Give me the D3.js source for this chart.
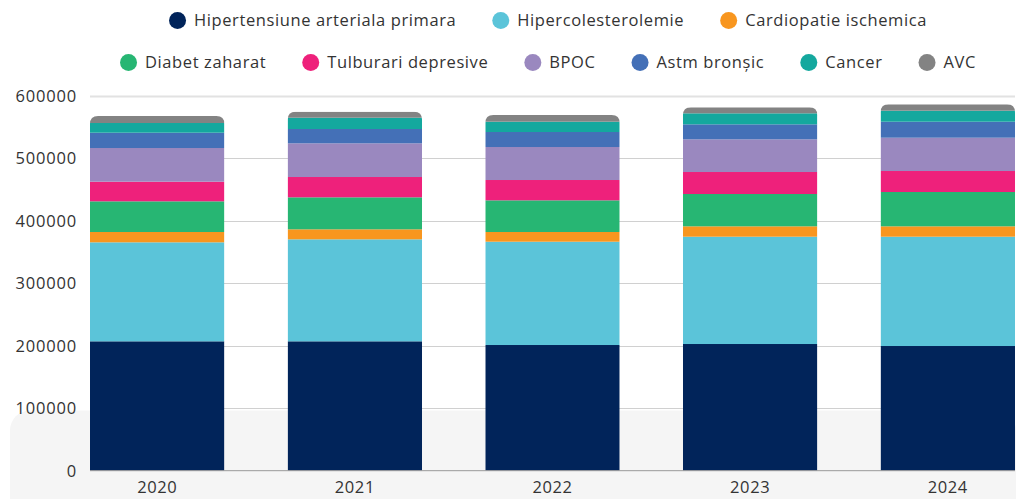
<!DOCTYPE html>
<html><head><meta charset="utf-8">
<script src="https://cdn.jsdelivr.net/npm/d3@7"></script>
<style>body{margin:0;background:#fff}svg{display:block}</style>
</head><body>
<svg id="c" width="1024" height="499"></svg>
<script>
const years = ["2020","2021","2022","2023","2024"];
const seriesNames = ["Hipertensiune arteriala primara","Hipercolesterolemie","Cardiopatie ischemica","Diabet zaharat","Tulburari depresive","BPOC","Astm bronșic","Cancer","AVC"];
const colors = ["#01245A","#5BC4D9","#F8961F","#27B673","#EE217B","#9A88BF","#4470B7","#14A89E","#838383"];
const hipertensiune = [207000,207000,201100,202700,199500];
const hipercolesterolemie = [158400,163200,165300,171700,174900];
const cardiopatie = [16500,16000,15500,16600,16600];
const diabet = [49100,51200,50700,51700,54900];
const depresive = [31400,32500,32500,35200,33600];
const bpoc = [53900,53900,52800,52300,53300];
const astm = [24500,22900,24000,24000,25600];
const cancer = [15500,18100,16500,17600,17600];
const avc = [11200,9600,10700,9600,10200];
const yTicks = [0,100000,200000,300000,400000,500000,600000];
const legendRows = [[0,1,2],[3,4,5,6,7,8]];

const seriesValues = [hipertensiune,hipercolesterolemie,cardiopatie,diabet,depresive,bpoc,astm,cancer,avc];
const keys = seriesNames;
const table = years.map((y,i)=>{const o={year:y};keys.forEach((k,j)=>o[k]=seriesValues[j][i]);return o;});
const stack = d3.stack().keys(keys)(table);

const svg = d3.select("#c");
const font = "'Open Sans', sans-serif";
const x = d3.scaleBand().domain(years).range([90,1015]).paddingInner(0.32).paddingOuter(0);
const y = d3.scaleLinear().domain([0,600000]).range([470.7,95.7]);

// background panel
svg.append("rect").attr("x",10).attr("y",410.5).attr("width",1006).attr("height",140).attr("rx",20).attr("fill","#f5f5f5");

// gridlines
svg.append("g").selectAll("line").data(yTicks.filter(t=>t>0)).join("line")
  .attr("x1",90).attr("x2",1015).attr("y1",d=>Math.round(y(d))+0.5).attr("y2",d=>Math.round(y(d))+0.5)
  .attr("stroke",d=>d===600000?"#e2e2e2":"#d0d0d0").attr("stroke-width",d=>d===600000?2:1);

// y axis labels
const yAxis = d3.axisLeft(y).tickValues(yTicks).tickSize(0).tickPadding(0).tickFormat(d=>String(d));
const ga = svg.append("g").attr("transform","translate(77,0)").call(yAxis);
ga.select(".domain").remove();
ga.selectAll("text").attr("font-family",font).attr("font-size",16.5).attr("letter-spacing","0.8px").attr("fill","#333").attr("dy","0.34em");

// clip paths for rounded tops
const defs = svg.append("defs");
const r = 8;
years.forEach((yr,i)=>{
  const top = y(stack[stack.length-1][i][1]);
  const x0 = x(yr), w = x.bandwidth(), b = y(0);
  defs.append("clipPath").attr("id","clip"+i).append("path")
    .attr("d",`M${x0},${b}V${top+r}Q${x0},${top} ${x0+r},${top}H${x0+w-r}Q${x0+w},${top} ${x0+w},${top+r}V${b}Z`);
});

const bars = svg.append("g");
years.forEach((yr,i)=>{
  const g = bars.append("g").attr("clip-path",`url(#clip${i})`);
  stack.forEach((s,j)=>{
    g.append("rect").attr("x",x(yr)).attr("width",x.bandwidth())
      .attr("y",y(s[i][1])).attr("height",y(s[i][0])-y(s[i][1]))
      .attr("fill",colors[j]);
  });
});

// baseline
svg.append("line").attr("x1",90).attr("x2",1015).attr("y1",470.7).attr("y2",470.7).attr("stroke","#999").attr("stroke-width",1);

// x axis labels
const xAxis = d3.axisBottom(x).tickSize(0).tickPadding(0);
const gx = svg.append("g").attr("transform","translate(0,480)").call(xAxis);
gx.select(".domain").remove();
gx.selectAll("text").attr("font-family",font).attr("font-size",16.5).attr("letter-spacing","0.6px").attr("fill","#333").attr("dy","0.78em");

// legend
const rowY = [20.5,62.5];
const center = 548;
const gap = 36;
legendRows.forEach((row,ri)=>{
  const g = svg.append("g");
  let cx = 0;
  row.forEach((si,k)=>{
    const it = g.append("g");
    it.append("circle").attr("cx",8.5).attr("cy",0).attr("r",8.5).attr("fill",colors[si]);
    const t = it.append("text").attr("x",25).attr("y",0).attr("dy","0.35em")
      .attr("font-family",font).attr("font-size",16.5).attr("letter-spacing","0.6px").attr("fill","#333").text(seriesNames[si]);
    const w = 25 + t.node().getComputedTextLength();
    it.attr("transform",`translate(${cx},0)`);
    cx += w + gap;
  });
  const total = cx - gap;
  g.attr("transform",`translate(${center-total/2},${rowY[ri]})`);
});
</script>
</body></html>
